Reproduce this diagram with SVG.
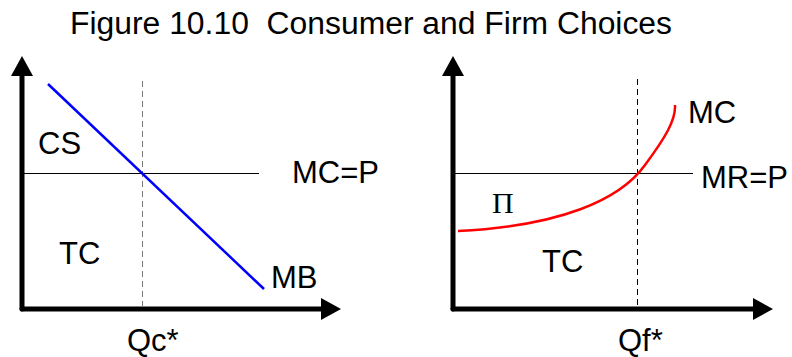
<svg xmlns="http://www.w3.org/2000/svg" width="792" height="357" viewBox="0 0 792 357">
<style>
text{font-family:"Liberation Sans",Arial,sans-serif;font-size:31px;fill:#000}
.pi{font-family:"Liberation Serif","Times New Roman",serif;font-size:30px}
.ax{stroke:#000;stroke-width:5;fill:none;stroke-linecap:round}
.hl{stroke:#000;stroke-width:1;fill:none}
.dash{stroke-width:1;stroke-dasharray:6,4;fill:none}
</style>
<defs>
<marker id="ah" viewBox="0 0 20 22" refX="2" refY="11" markerWidth="20" markerHeight="22" markerUnits="userSpaceOnUse" orient="auto">
<path d="M0,0 L20,11 L0,22 Z" fill="#000"/>
</marker>
</defs>
<rect width="792" height="357" fill="#fff"/>
<text x="70" y="34" xml:space="preserve" style="white-space:pre" textLength="602" lengthAdjust="spacingAndGlyphs">Figure 10.10  Consumer and Firm Choices</text>
<g id="left">
<line class="hl" x1="22" y1="173.5" x2="259" y2="173.5"/>
<line class="dash" stroke="#777" x1="142.5" y1="81" x2="142.5" y2="306"/>
<line x1="48" y1="84" x2="264" y2="289" stroke="#0000ff" stroke-width="2.5"/>
<path class="ax" d="M22,309 L22,74" marker-end="url(#ah)"/>
<path class="ax" d="M22,309 L323,309" marker-end="url(#ah)"/>
<text x="38" y="154">CS</text>
<text x="59" y="264">TC</text>
<text x="292" y="183">MC=P</text>
<text x="271" y="288">MB</text>
<text x="127" y="351">Qc*</text>
</g>
<g id="right">
<line class="hl" x1="453" y1="173.5" x2="693" y2="173.5"/>
<line class="dash" stroke="#000" x1="637.5" y1="79" x2="637.5" y2="306"/>
<path d="M458,231 C560,226 620,200 645,165 C665,138 676,120 675,105" stroke="#ff0000" stroke-width="2.5" fill="none"/>
<path class="ax" d="M453,309 L453,74" marker-end="url(#ah)"/>
<path class="ax" d="M453,309 L755,309" marker-end="url(#ah)"/>
<text x="688" y="123">MC</text>
<text x="701" y="188">MR=P</text>
<text class="pi" x="492" y="213">Π</text>
<text x="542" y="272">TC</text>
<text x="618" y="351">Qf*</text>
</g>
</svg>
